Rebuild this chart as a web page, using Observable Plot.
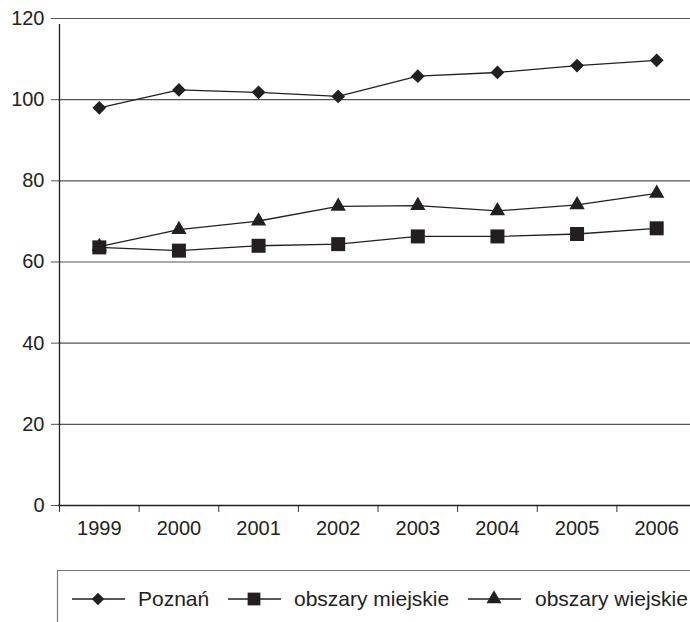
<!DOCTYPE html>
<html><head><meta charset="utf-8">
<script src="https://cdn.jsdelivr.net/npm/d3@7"></script>
<script src="https://cdn.jsdelivr.net/npm/@observablehq/plot@0.6"></script>
<style>
body{margin:0;background:#fff;overflow:hidden;font-family:"Liberation Sans",Arial,sans-serif;}
#chart svg{display:block;}
</style></head><body><div id="chart"></div><div id="legend"></div><script>
const years = [1999, 2000, 2001, 2002, 2003, 2004, 2005, 2006];
const poznan = [98.0, 102.4, 101.8, 100.8, 105.8, 106.7, 108.4, 109.7];
const miejskie = [63.6, 62.8, 64.0, 64.4, 66.3, 66.3, 66.9, 68.3];
const wiejskie = [63.8, 68.0, 70.1, 73.7, 73.9, 72.6, 74.1, 76.9];
const yTicks = [0, 20, 40, 60, 80, 100, 120];
const seriesNames = ["Poznań", "obszary miejskie", "obszary wiejskie"];

const ink = "#231f20";
const defPoznan = {name: seriesNames[0], values: poznan, symbol: d3.symbolDiamond2, r: 6.2};
const defMiejskie = {name: seriesNames[1], values: miejskie, symbol: d3.symbolSquare, r: 7.9};
const defWiejskie = {name: seriesNames[2], values: wiejskie, symbol: d3.symbolTriangle, r: 5.7};
// drawing order: triangles under squares
const drawOrder = [defPoznan, defWiejskie, defMiejskie];
const rows = drawOrder.flatMap(s => years.map((yr, i) => ({series: s.name, year: yr, value: s.values[i]})));
const boundaries = years.concat([years[years.length - 1] + 1]).map(y => y - 0.5);

const marks = [
  Plot.ruleY(yTicks.filter(v => v > 0), {stroke: "#555", strokeWidth: 1.1}),
  Plot.axisY({ticks: yTicks, tickSize: 7, tickPadding: 7, fontSize: 20, stroke: "#555", tickFormat: d => String(d), label: null}),
  Plot.axisX({ticks: boundaries, tickSize: 7, tickFormat: () => "", stroke: "#333", label: null}),
  Plot.axisX({ticks: years, tickSize: 0, tickPadding: 15, fontSize: 20, tickFormat: d => String(d), label: null}),
  Plot.ruleY([0], {stroke: ink, strokeWidth: 1.3}),
  Plot.ruleX([boundaries[0]], {y1: 0, y2: yTicks[yTicks.length - 1], stroke: ink, strokeWidth: 1.3, insetBottom: -6})
];
for (const s of drawOrder) {
  const data = rows.filter(d => d.series === s.name);
  marks.push(Plot.line(data, {x: "year", y: "value", stroke: ink, strokeWidth: 1.3}));
  marks.push(Plot.dot(data, {x: "year", y: "value", symbol: () => s.symbol, r: s.r, fill: ink, stroke: "none"}));
}

const chart = Plot.plot({
  width: 690,
  height: 560,
  marginLeft: 58,
  marginRight: 0,
  marginTop: 18,
  marginBottom: 55,
  style: {fontFamily: '"Liberation Sans", Arial, sans-serif', color: "#222", background: "#fff"},
  x: {type: "linear", domain: [boundaries[0], boundaries[boundaries.length - 1]], range: [59, 696]},
  y: {domain: [0, 120], range: [505, 18]},
  symbol: {type: "identity"},
  marks
});
document.getElementById("chart").appendChild(chart);

// Legend
const lg = d3.select("#legend").append("svg").attr("width", 690).attr("height", 62).style("display", "block");
lg.append("line").attr("x1", 57).attr("x2", 690).attr("y1", 10.5).attr("y2", 10.5).attr("stroke", "#777").attr("stroke-width", 1.2);
lg.append("line").attr("x1", 57.5).attr("x2", 57.5).attr("y1", 10).attr("y2", 62).attr("stroke", "#777").attr("stroke-width", 1.2);
const items = [
  {def: defPoznan, x0: 72, text: 138, r: 5.6},
  {def: defMiejskie, x0: 228, text: 294, r: 7.2},
  {def: defWiejskie, x0: 468, text: 535, r: 5.6}
];
const ly = 39;
for (const it of items) {
  const g = lg.append("g");
  g.append("line").attr("x1", it.x0).attr("x2", it.x0 + 53).attr("y1", ly).attr("y2", ly).attr("stroke", ink).attr("stroke-width", 1.3);
  const size = Math.PI * it.r * it.r;
  g.append("path").attr("d", d3.symbol(it.def.symbol, size)()).attr("transform", `translate(${it.x0 + 26},${ly})`).attr("fill", ink);
  g.append("text").attr("x", it.text).attr("y", ly).attr("dy", "0.35em").attr("font-size", 21).attr("fill", "#222")
    .style("font-family", '"Liberation Sans", Arial, sans-serif').text(it.def.name);
}
</script></body></html>
